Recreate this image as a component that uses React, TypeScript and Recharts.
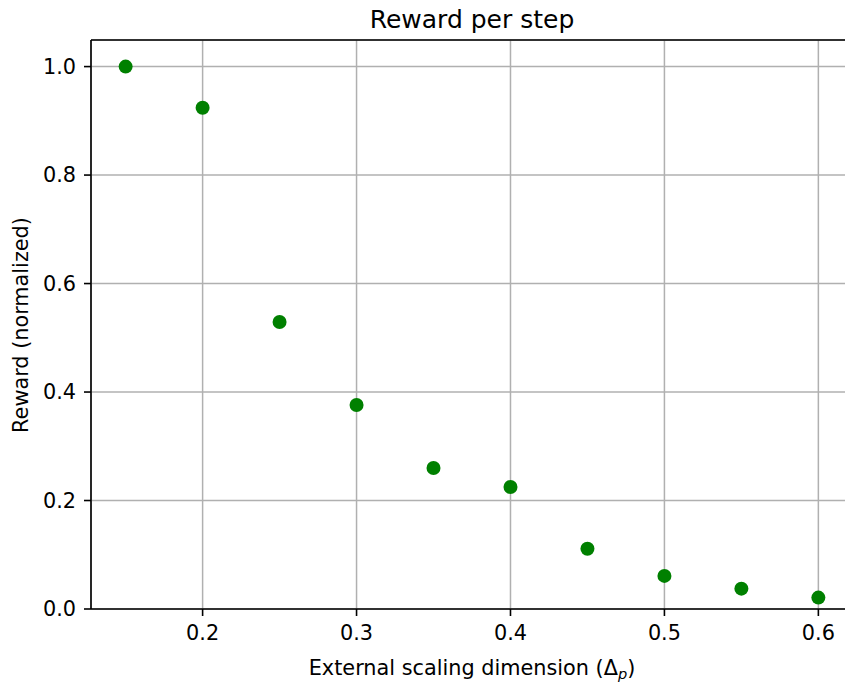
import React from 'react';
import {
  ScatterChart,
  Scatter,
  XAxis,
  YAxis,
  CartesianGrid,
  ReferenceLine,
  Label
} from 'recharts';

// external scaling dimension (x) and normalized reward per step (y)
const scalingDims = [0.15, 0.2, 0.25, 0.3, 0.35, 0.4, 0.45, 0.5, 0.55, 0.6];
const rewards = [1.0, 0.924, 0.529, 0.376, 0.26, 0.225, 0.111, 0.061, 0.0375, 0.021];

const xTicks = [0.2, 0.3, 0.4, 0.5, 0.6];
const yTicks = [0, 0.2, 0.4, 0.6, 0.8, 1.0];

const points = scalingDims.map((x, i) => ({ x, y: rewards[i] }));

const FONT = '"DejaVu Sans", sans-serif';
const tickStyle = { fontSize: 20.8, fill: '#000', fontFamily: FONT };

const Dot = (props: any) => (
  <circle cx={props.cx} cy={props.cy} r={7} fill="#008000" />
);

const XLabel = (props: any) => {
  const vb = props.viewBox;
  const cx = vb.x + vb.width / 2;
  return (
    <text x={cx} y={675} textAnchor="middle" fontSize={20.8} fontFamily={FONT} fill="#000">
      External scaling dimension (Δ
      <tspan fontSize={14.6} fontStyle="italic" dy={4}>p</tspan>
      <tspan dy={-4}>)</tspan>
    </text>
  );
};

const YLabel = () => (
  <text
    x={28}
    y={325}
    transform="rotate(-90, 28, 325)"
    textAnchor="middle"
    fontSize={20.8}
    fontFamily={FONT}
    fill="#000"
  >
    Reward (normalized)
  </text>
);

const App: React.FC = () => {
  return (
    <div style={{ position: 'absolute', left: 0, top: 0, width: 845, height: 682, overflow: 'hidden', background: '#fff' }}>
      <div
        style={{
          position: 'absolute',
          left: 91,
          width: 762,
          top: 5,
          textAlign: 'center',
          fontFamily: FONT,
          fontSize: 25,
          lineHeight: '30px',
          color: '#000'
        }}
      >
        Reward per step
      </div>
      <ScatterChart width={854} height={682} margin={{ top: 40, right: 1, bottom: 0, left: 0 }}>
        <CartesianGrid stroke="#b0b0b0" strokeWidth={1.5} />
        <XAxis
          type="number"
          dataKey="x"
          domain={[0.1275, 0.6225]}
          ticks={xTicks}
          tickFormatter={(v: number) => v.toFixed(1)}
          height={73}
          tickSize={7}
          tickMargin={9}
          tick={tickStyle}
          stroke="#000"
          axisLine={{ stroke: '#000', strokeWidth: 1.6 }}
          tickLine={{ stroke: '#000', strokeWidth: 1.6 }}
          allowDataOverflow
        >
          <Label content={<XLabel />} />
        </XAxis>
        <YAxis
          type="number"
          dataKey="y"
          domain={[0, 1.049]}
          ticks={yTicks}
          tickFormatter={(v: number) => v.toFixed(1)}
          width={91}
          tickSize={7}
          tickMargin={8}
          tick={tickStyle}
          stroke="#000"
          axisLine={{ stroke: '#000', strokeWidth: 1.6 }}
          tickLine={{ stroke: '#000', strokeWidth: 1.6 }}
          allowDataOverflow
        >
          <Label content={<YLabel />} />
        </YAxis>
        <ReferenceLine y={1.049} stroke="#000" strokeWidth={1.6} ifOverflow="visible" />
        <Scatter data={points} shape={<Dot />} isAnimationActive={false} />
      </ScatterChart>
    </div>
  );
};

export default App;
